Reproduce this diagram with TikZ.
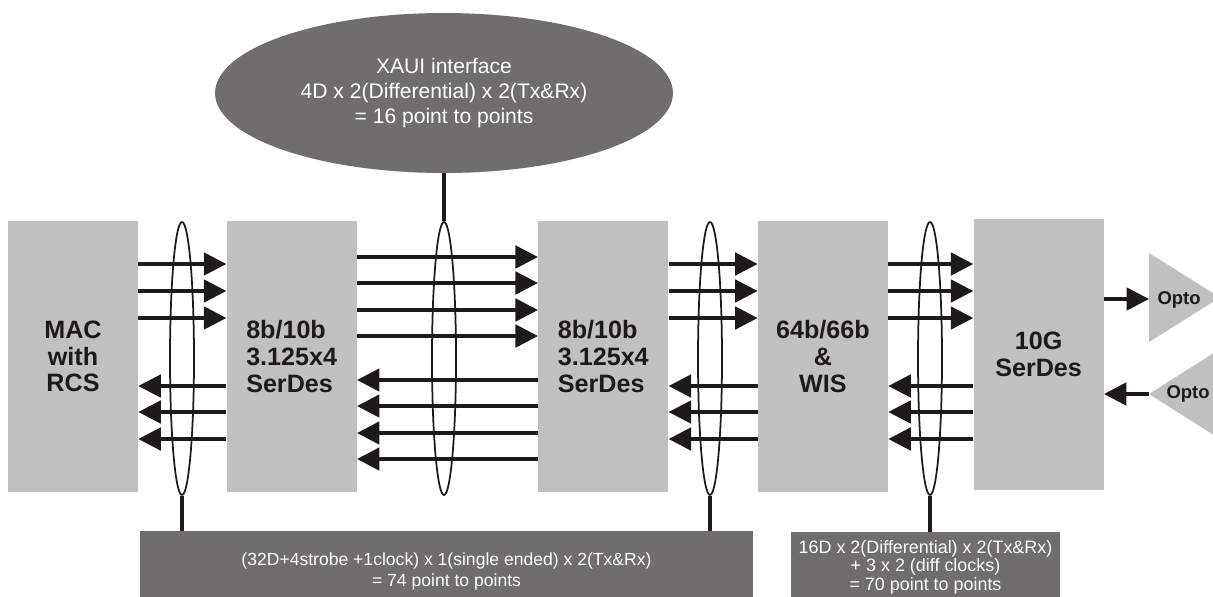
\documentclass[tikz,border=0pt]{standalone}
\usepackage{fontspec}
\setmainfont{Liberation Sans}
\usetikzlibrary{arrows.meta, positioning, shapes.geometric, backgrounds}
\definecolor{blockgray}{RGB}{192,192,192}
\definecolor{busgray}{RGB}{111,109,110}
\definecolor{inkc}{RGB}{30,26,27}

\begin{document}
\begin{tikzpicture}[
    x=0.02cm, y=-0.02cm,
    block/.style={rectangle, fill=blockgray, minimum width=2.6cm, minimum height=5.42cm,
                  inner sep=0pt, align=center, text=inkc,
                  font=\bfseries\fontsize{14.3}{15.2}\selectfont},
    bundle/.style={ellipse, draw=inkc, line width=1pt, minimum width=0.48cm,
                   minimum height=5.46cm, inner sep=0pt},
    bus/.style={rectangle, fill=busgray, inner sep=0pt, align=center, text=white},
    arr/.style={-{Triangle[length=0.45cm, width=0.45cm]}, line width=2pt, draw=inkc},
    stem/.style={line width=2.2pt, draw=inkc},
    optolbl/.style={font=\bfseries\fontsize{10.5}{11}\selectfont, text=inkc, inner sep=0pt}
]
\useasboundingbox (0,0) rectangle (1213,596);

% Blocks row
\node[block] (mac) at (73,356.5) {MAC\\with\\RCS};
\node[block, align=left, right=1.76cm of mac] (xa)  {8b/10b\\3.125x4\\SerDes};
\node[block, align=left, right=3.62cm of xa]  (xb)  {8b/10b\\3.125x4\\SerDes};
\node[block, right=1.78cm of xb]  (wis) {64b/66b\\\&\\WIS};
\node[block, right=1.7cm of wis, yshift=0.04cm]  (ser) {10G\\SerDes};

% Opto modules
\fill[blockgray] (1149,253) -- (1220,297.5) -- (1149,342) -- cycle;
\fill[blockgray] (1220,349) -- (1149,394) -- (1220,439) -- cycle;
\node[optolbl] (optoA) at (1179,300) {Opto};
\node[optolbl] (optoB) at (1188,394) {Opto};
\coordinate (optoAin)  at (1149,299);
\coordinate (optoBout) at (1149,394);

% Bundles
\node[bundle] (el1) at (182,358.5) {};
\node[bundle] (el2) at (444,358.5) {};
\node[bundle] (el3) at (710,358.5) {};
\node[bundle] (el4) at (930,358.5) {};

% Interface descriptions
\node[ellipse, fill=busgray, text=white, align=center, minimum width=9.16cm,
      minimum height=3.2cm, font=\fontsize{12}{14}\selectfont] (xaui) at (444,93)
      {XAUI interface\\4D x 2(Differential) x 2(Tx\&Rx)\\= 16 point to points};
\node[bus, minimum width=12.26cm, minimum height=1.6cm, font=\fontsize{10}{12}\selectfont]
      (bus74) at (446.5,571)
      {(32D+4strobe +1clock) x 1(single ended) x 2(Tx\&Rx)\\= 74 point to points};
\node[bus, minimum width=5.38cm, minimum height=1.4cm, font=\fontsize{10.2}{10.6}\selectfont]
      (bus70) at (925.5,567)
      {16D x 2(Differential) x 2(Tx\&Rx)\\+ 3 x 2 (diff clocks)\\= 70 point to points};

% Transmit paths
\foreach \y in {264,291,318} {
    \draw[arr] (mac.east |- 0,\y) -- (xa.west |- 0,\y);
    \draw[arr] (xb.east |- 0,\y)  -- (wis.west |- 0,\y);
    \draw[arr] (wis.east |- 0,\y) -- (ser.west |- 0,\y);
}
\foreach \y in {257,283,310,336}
    \draw[arr] (xa.east |- 0,\y) -- (xb.west |- 0,\y);
\draw[arr] (ser.east |- optoAin) -- (optoAin);

% Receive paths
\foreach \y in {386,412,439} {
    \draw[arr] (xa.west |- 0,\y)  -- (mac.east |- 0,\y);
    \draw[arr] (wis.west |- 0,\y) -- (xb.east |- 0,\y);
    \draw[arr] (ser.west |- 0,\y) -- (wis.east |- 0,\y);
}
\foreach \y in {380,406,433,459}
    \draw[arr] (xb.west |- 0,\y) -- (xa.east |- 0,\y);
\draw[arr] (optoBout) -- (ser.east |- optoBout);

% Bundles -> descriptions
\draw[stem] (el2.north) -- (xaui.south);
\draw[stem] (el1.south) -- (el1.south |- bus74.north);
\draw[stem] (el3.south) -- (el3.south |- bus74.north);
\draw[stem] (el4.south) -- (el4.south |- bus70.north);
\end{tikzpicture}
\end{document}
